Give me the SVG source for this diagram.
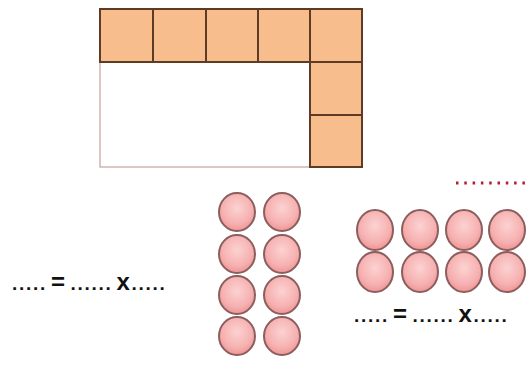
<svg xmlns="http://www.w3.org/2000/svg" width="526" height="372" viewBox="0 0 526 372">
<defs>
<radialGradient id="pink" cx="0.5" cy="0.4" r="0.6">
<stop offset="0" stop-color="#fcd2d2"/>
<stop offset="0.7" stop-color="#f6b0b0"/>
<stop offset="1" stop-color="#ef9494"/>
</radialGradient>
</defs>
<style>
.sq{fill:#f8bd8c;stroke:#5e3b24;stroke-width:2}
.c{fill:url(#pink);stroke:#8c5e5e;stroke-width:2}
.t{font-family:"Liberation Sans",Arial,sans-serif;font-size:19px;font-weight:bold;fill:#111;letter-spacing:1.7px;word-spacing:-3px}
.big{font-size:24px}
</style>
<rect width="526" height="372" fill="#fff"/>
<g id="area">
<rect x="100" y="62" width="210" height="105" fill="#fff" stroke="#c9a0a0" stroke-width="1.2"/>
<rect class="sq" x="100" y="9" width="53" height="53"/>
<rect class="sq" x="153" y="9" width="53" height="53"/>
<rect class="sq" x="206" y="9" width="52" height="53"/>
<rect class="sq" x="258" y="9" width="52" height="53"/>
<rect class="sq" x="310" y="9" width="52" height="53"/>
<rect class="sq" x="310" y="62" width="52" height="53"/>
<rect class="sq" x="310" y="115" width="52" height="52"/>
</g>
<g id="eq-left">
<text class="t" x="12" y="290">..... <tspan class="big">=</tspan> ...... <tspan class="big">x</tspan>.....</text>
</g>
<g id="circles-left">
<ellipse class="c" cx="237" cy="212" rx="18" ry="19"/>
<ellipse class="c" cx="282" cy="212" rx="18" ry="19"/>
<ellipse class="c" cx="237" cy="254" rx="18" ry="19"/>
<ellipse class="c" cx="282" cy="254" rx="18" ry="19"/>
<ellipse class="c" cx="237" cy="295" rx="18" ry="19"/>
<ellipse class="c" cx="282" cy="295" rx="18" ry="19"/>
<ellipse class="c" cx="237" cy="336" rx="18" ry="19"/>
<ellipse class="c" cx="282" cy="336" rx="18" ry="19"/>
</g>
<g id="dots-right">
<line x1="456" y1="183" x2="526" y2="183" stroke="#b3202c" stroke-width="3" stroke-dasharray="2.5 5.8"/>
</g>
<g id="circles-right">
<ellipse class="c" cx="375" cy="230" rx="18" ry="20"/>
<ellipse class="c" cx="420" cy="230" rx="18" ry="20"/>
<ellipse class="c" cx="464" cy="230" rx="18" ry="20"/>
<ellipse class="c" cx="507" cy="230" rx="18" ry="20"/>
<ellipse class="c" cx="375" cy="272" rx="18" ry="20"/>
<ellipse class="c" cx="420" cy="272" rx="18" ry="20"/>
<ellipse class="c" cx="464" cy="272" rx="18" ry="20"/>
<ellipse class="c" cx="507" cy="272" rx="18" ry="20"/>
</g>
<g id="eq-right">
<text class="t" x="354" y="322">..... <tspan class="big">=</tspan> ...... <tspan class="big">x</tspan>.....</text>
</g>
</svg>
